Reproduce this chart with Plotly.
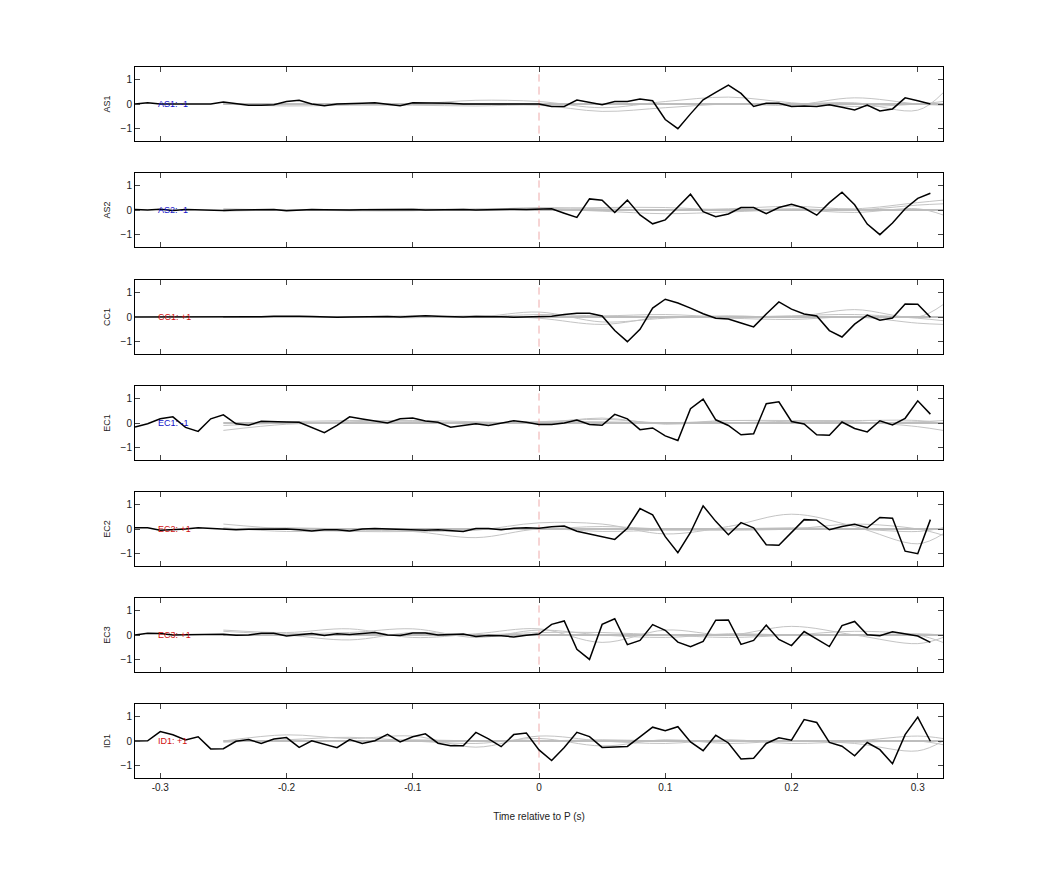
import plotly.graph_objects as go

t = [round(-0.32 + 0.01 * i, 2) for i in range(64)]
names = ["AS1", "AS2", "CC1", "EC1", "EC2", "EC3", "ID1"]
tags = ["AS1: -1", "AS2: -1", "CC1: +1", "EC1: -1", "EC2: +1", "EC3: +1", "ID1: +1"]
tag_colors = ["#1010c8", "#1010c8", "#d01010", "#1010c8", "#d01010", "#d01010", "#d01010"]

as1 = [0, 0.05, 0, 0, 0, 0, 0, 0.08, 0, -0.05, -0.05, -0.03, 0.1, 0.15, 0.0, -0.07, 0, 0, 0.03, 0.05, 0, -0.07,
       0.05, 0.05, 0.05, 0.03, 0, 0, 0.02, 0.02, 0, 0.02,
       0.0, -0.1, -0.1, 0.16, 0.05, -0.03, 0.1, 0.1, 0.2, 0.13, -0.63, -1.0, -0.4, 0.17, 0.47, 0.77, 0.43, -0.1,
       0.03, 0.03, -0.1, -0.08, -0.1, -0.03, -0.13, -0.24, -0.04, -0.28, -0.2, 0.25, 0.13, 0.0]
as2 = [0.02, 0.0, 0.03, -0.02, 0.02, 0.0, 0.01, -0.02, 0.0, 0.01, 0.03, 0.02, -0.03, 0.0, 0.02, 0.01, -0.01, 0.0,
       0.01, 0.02, 0.0, 0.01, 0.02, 0.0, 0.01, 0.03, 0.02, 0.0, 0.02, 0.04, 0.03, 0.02,
       0.03, 0.05, -0.13, -0.3, 0.45, 0.4, -0.1, 0.4, -0.2, -0.56, -0.4, 0.1, 0.64, -0.07, -0.27, -0.16, 0.1, 0.1,
       -0.15, 0.1, 0.23, 0.08, -0.21, 0.3, 0.72, 0.21, -0.57, -1.0, -0.53, 0.05, 0.47, 0.68]
cc1 = [0.0, 0.0, 0.01, 0.0, 0.0, 0.0, -0.01, 0.0, 0.01, 0.02, 0.01, 0.03, 0.04, 0.03, 0.02, 0.0, -0.01, 0.0,
       0.01, 0.03, 0.02, 0.0, 0.03, 0.05, 0.03, 0.01, 0.0, 0.02, 0.03, 0.01, -0.01, 0.0,
       0.0, 0.03, 0.1, 0.15, 0.15, 0.04, -0.55, -1.0, -0.5, 0.36, 0.72, 0.57, 0.36, 0.13, -0.05, -0.08, -0.24, -0.4,
       0.12, 0.61, 0.32, 0.12, 0.04, -0.55, -0.81, -0.29, 0.08, -0.13, -0.04, 0.53, 0.52, -0.01]
ec1 = [-0.16, -0.03, 0.17, 0.25, -0.18, -0.34, 0.17, 0.33, -0.03, -0.09, 0.07, 0.04, 0.04, 0.03, -0.18, -0.39,
       -0.1, 0.25, 0.16, 0.08, 0.0, 0.17, 0.2, 0.08, 0.03, -0.17, -0.1, -0.03, -0.1, 0.01, 0.09, 0.03,
       -0.06, -0.06, 0.0, 0.12, -0.06, -0.09, 0.35, 0.17, -0.27, -0.2, -0.52, -0.71, 0.58, 0.97, 0.13, -0.1, -0.48,
       -0.44, 0.78, 0.86, 0.06, -0.04, -0.48, -0.5, 0.04, -0.22, -0.36, 0.09, -0.08, 0.19, 0.9, 0.36]
ec2 = [0.05, 0.05, -0.05, -0.03, 0.0, 0.05, 0.02, -0.02, -0.03, -0.01, 0.0, 0.01, 0.0, -0.03, -0.08, -0.03,
       -0.03, -0.08, 0.0, 0.02, 0.0, -0.01, -0.02, -0.05, -0.03, -0.05, -0.1, 0.02, 0.02, -0.03, 0.03, 0.05,
       0.03, 0.09, 0.12, -0.09, -0.2, -0.29, -0.42, 0.03, 0.83, 0.57, -0.31, -0.96, -0.14, 0.94, 0.31, -0.23, 0.26,
       0.05, -0.64, -0.66, -0.14, 0.38, 0.36, -0.03, 0.1, 0.19, 0.05, 0.47, 0.44, -0.9, -1.0, 0.38]
ec3 = [0.0, 0.07, 0.06, 0.0, 0.01, 0.02, 0.03, 0.03, -0.01, 0.0, 0.07, 0.07, -0.04, 0.02, 0.06, -0.02, 0.05,
       0.02, 0.05, 0.1, 0.0, -0.02, 0.08, 0.08, 0.0, 0.02, 0.04, -0.06, -0.02, -0.03, -0.08, -0.01,
       0.04, 0.43, 0.57, -0.58, -0.99, 0.43, 0.66, -0.39, -0.22, 0.42, 0.19, -0.29, -0.47, -0.26, 0.6, 0.61, -0.38,
       -0.22, 0.4, -0.18, -0.43, 0.14, -0.16, -0.47, 0.38, 0.55, 0.01, -0.03, 0.13, 0.06, -0.04, -0.3]
id1 = [0.0, 0.01, 0.38, 0.25, 0.04, 0.17, -0.32, -0.31, -0.01, 0.06, -0.1, 0.08, 0.14, -0.26, 0.01, -0.12,
       -0.27, 0.06, -0.1, 0.01, 0.27, -0.04, 0.17, 0.29, -0.09, -0.19, -0.19, 0.35, 0.09, -0.23, 0.26, 0.32,
       -0.36, -0.79, -0.26, 0.35, 0.18, -0.26, -0.23, -0.22, 0.17, 0.56, 0.42, 0.58, -0.04, -0.39, 0.23, -0.08,
       -0.73, -0.7, -0.1, 0.13, 0.03, 0.87, 0.75, -0.06, -0.21, -0.6, -0.06, -0.35, -0.92, 0.26, 0.97, -0.01]
black = [as1, as2, cc1, ec1, ec2, ec3, id1]

tg = [-0.25, -0.2, -0.15, -0.1, -0.05, 0.0, 0.05, 0.1, 0.15, 0.2, 0.25, 0.3, 0.32]
gray = [
    [[0.0, -0.03, 0.02, 0.0, 0.15, 0.1, -0.15, 0.1, 0.28, 0.05, -0.1, 0.0, 0.1],
     [0.0, -0.08, -0.05, -0.05, -0.08, -0.05, -0.3, -0.15, 0.0, -0.05, 0.25, 0.0, -0.05],
     [0.0, 0.0, 0.0, 0.0, 0.0, 0.0, 0.0, 0.0, 0.0, 0.0, 0.05, -0.25, 0.45]],
    [[0.05, 0.0, 0.02, 0.05, 0.02, 0.1, 0.05, 0.0, 0.05, 0.15, 0.05, 0.3, 0.4],
     [-0.05, 0.0, -0.03, -0.03, 0.05, 0.05, -0.05, -0.15, -0.08, 0.0, -0.1, 0.05, -0.2],
     [0.0, 0.02, 0.0, 0.0, -0.02, 0.05, 0.1, 0.1, 0.0, 0.05, 0.0, 0.2, 0.25]],
    [[0.0, 0.02, 0.0, 0.05, 0.0, 0.2, -0.2, -0.05, 0.05, 0.0, 0.3, 0.0, 0.5],
     [0.0, -0.02, 0.0, -0.03, 0.05, -0.05, -0.3, 0.0, -0.05, -0.1, 0.0, -0.25, -0.3],
     [0.0, 0.0, 0.02, 0.0, 0.0, 0.1, 0.05, 0.1, 0.0, 0.05, 0.1, -0.05, -0.15]],
    [[-0.3, -0.05, 0.0, 0.05, 0.0, 0.05, 0.15, 0.0, 0.1, 0.1, 0.1, 0.1, 0.0],
     [-0.1, 0.0, 0.05, 0.1, 0.05, 0.0, 0.2, -0.05, 0.1, 0.05, 0.05, -0.15, -0.3],
     [0.0, 0.05, 0.1, 0.08, -0.05, 0.05, 0.05, 0.0, 0.0, 0.0, 0.0, 0.05, 0.1]],
    [[0.2, 0.0, -0.1, -0.1, -0.05, 0.25, 0.2, -0.2, 0.1, 0.6, 0.1, -0.6, -0.2],
     [0.05, -0.1, -0.05, -0.1, -0.35, 0.0, -0.1, -0.05, -0.05, 0.0, 0.2, 0.0, -0.25],
     [0.0, 0.05, 0.0, 0.0, 0.0, 0.0, 0.1, 0.0, 0.0, 0.05, 0.0, -0.1, 0.05]],
    [[0.2, 0.1, 0.25, -0.1, 0.05, 0.25, -0.3, 0.2, 0.0, 0.35, 0.0, -0.35, -0.1],
     [0.15, 0.0, -0.2, 0.1, 0.0, 0.1, 0.1, 0.0, -0.1, 0.0, 0.15, 0.0, -0.3],
     [0.0, 0.05, 0.1, 0.25, -0.1, 0.2, 0.0, -0.1, 0.05, 0.0, 0.0, 0.05, 0.0]],
    [[0.0, 0.25, 0.1, 0.2, -0.25, 0.2, 0.0, -0.1, 0.05, -0.1, 0.0, 0.2, 0.1],
     [-0.05, 0.05, 0.15, 0.0, -0.1, 0.1, -0.2, 0.05, -0.1, 0.0, -0.1, -0.4, 0.0],
     [0.0, 0.0, 0.0, 0.05, 0.0, 0.0, 0.05, 0.0, 0.0, 0.0, -0.05, 0.0, -0.15]],
]

W, H = 1042, 875
OFF = 8
tops = [67, 173, 280, 386, 492, 598, 704]
ph = 74
fig = go.Figure()
axfont = dict(family="Liberation Sans, Arial, sans-serif", size=10, color="#222")
for i in range(7):
    n = i + 1
    xa = "x" if n == 1 else f"x{n}"
    ya = "y" if n == 1 else f"y{n}"
    for g in gray[i]:
        fig.add_trace(go.Scatter(x=tg, y=g, mode="lines", line=dict(color="#c4c4c4", width=1, shape="spline"),
                                 xaxis=xa, yaxis=ya, showlegend=False, hoverinfo="skip"))
    fig.add_trace(go.Scatter(x=[-0.25, 0.32], y=[0, 0], mode="lines", line=dict(color="#bdbdbd", width=2),
                             xaxis=xa, yaxis=ya, showlegend=False, hoverinfo="skip"))
    fig.add_trace(go.Scatter(x=[0, 0], y=[-1.2, 1.2], mode="lines",
                             line=dict(color="#eeaaaa", width=1, dash="8px,5px"),
                             xaxis=xa, yaxis=ya, showlegend=False, hoverinfo="skip"))
    fig.add_trace(go.Scatter(x=t, y=black[i], mode="lines", line=dict(color="black", width=1.5),
                             xaxis=xa, yaxis=ya, showlegend=False))
    fig.add_annotation(x=-0.303, y=0, xref=xa, yref=ya, text=tags[i], showarrow=False, xanchor="left",
                       font=dict(family="Liberation Sans, Arial, sans-serif", size=9, color=tag_colors[i]))
    y0 = (H - (tops[i] - OFF) - ph) / H
    y1 = (H - (tops[i] - OFF)) / H
    fig.layout[("xaxis" if n == 1 else f"xaxis{n}")] = dict(
        domain=[(135 - OFF) / W, (943 - OFF) / W], range=[-0.32, 0.32], anchor=ya,
        tickvals=[-0.3, -0.2, -0.1, 0, 0.1, 0.2, 0.3],
        ticktext=["-0.3", "-0.2", "-0.1", "0", "0.1", "0.2", "0.3"], showticklabels=(n == 7),
        ticks="inside", ticklen=5, mirror="allticks", showline=True, linecolor="black", linewidth=1,
        showgrid=False, zeroline=False, tickfont=axfont,
        title=dict(text="Time relative to P (s)", font=axfont, standoff=20) if n == 7 else None)
    fig.layout[("yaxis" if n == 1 else f"yaxis{n}")] = dict(
        domain=[y0, y1], range=[-1.5, 1.5], anchor=xa, tickvals=[-1, 0, 1], ticks="inside", ticklen=5,
        mirror="allticks", showline=True, linecolor="black", linewidth=1, showgrid=False, zeroline=False,
        tickfont=axfont, title=dict(text=names[i], font=dict(family="Liberation Sans, Arial, sans-serif", size=9, color="#222"), standoff=8))

fig.update_layout(width=W, height=H, margin=dict(l=0, r=0, t=0, b=0), plot_bgcolor="white",
                  paper_bgcolor="white", showlegend=False)
fig.write_html("out.html")
